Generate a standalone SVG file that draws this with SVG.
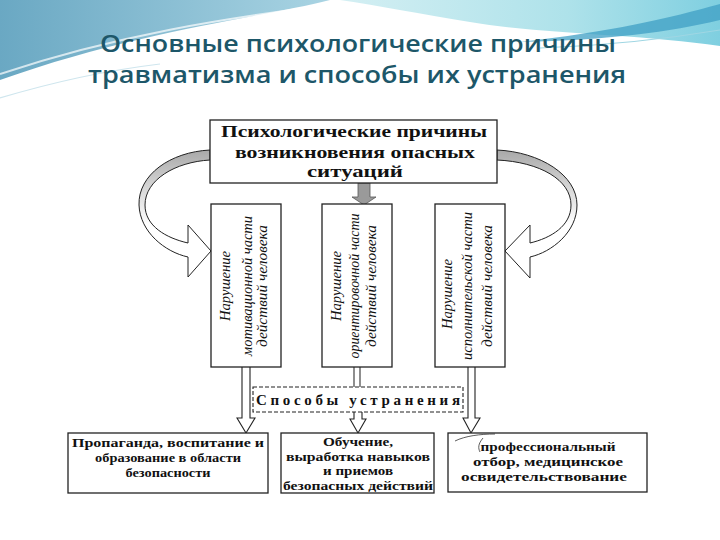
<svg xmlns="http://www.w3.org/2000/svg" width="720" height="540" viewBox="0 0 720 540">
<style>
.box{fill:#fff;stroke:#222;stroke-width:1.3}
.tb{font-family:"Liberation Serif",serif;font-weight:bold;fill:#111}
.vt{font-family:"Liberation Serif",serif;font-style:italic;font-size:14px;fill:#111;text-anchor:middle}
.bt{font-family:"Liberation Serif",serif;font-weight:bold;font-size:13px;fill:#111;text-anchor:middle}
.title{font-family:"Open Sans","DejaVu Sans",sans-serif;font-weight:600;font-size:23px;fill:#1d5769;text-anchor:middle}
.hollow{fill:#fff;stroke:#222;stroke-width:1.1;stroke-linejoin:miter}
</style>
<defs>
<linearGradient id="gA" x1="0" y1="0" x2="1" y2="0">
<stop offset="0" stop-color="#6aa8c3"/><stop offset="1" stop-color="#a9d4e3"/>
</linearGradient>
<linearGradient id="gB" x1="0" y1="0" x2="1" y2="0">
<stop offset="0" stop-color="#d4eff3"/><stop offset="0.6" stop-color="#aee2ea"/><stop offset="1" stop-color="#7fcfe0"/>
</linearGradient>
<linearGradient id="gL" gradientUnits="userSpaceOnUse" x1="0" y1="150" x2="0" y2="225">
<stop offset="0" stop-color="#a8a8a8"/><stop offset="0.5" stop-color="#d6d6d6"/><stop offset="1" stop-color="#fff"/>
</linearGradient>
</defs>
<rect width="720" height="540" fill="#fff"/>
<g id="background">
<path d="M0,0 H330 C260,18 140,30 0,80 Z" fill="url(#gA)"/>
<path d="M0,74 C120,34 230,18 320,6" fill="none" stroke="#fff" stroke-width="2" opacity="0.7"/>
<path d="M0,98 C60,80 110,70 160,64" fill="none" stroke="#cfe6ee" stroke-width="1.2"/>
<path d="M340,0 H720 V46 C640,34 540,34 470,22 C420,14 380,6 340,0 Z" fill="url(#gB)"/>
<path d="M720,4 C670,18 610,32 520,42 C610,40 670,32 720,20 Z" fill="#3f9fc4" opacity="0.75"/>
<path d="M720,30 C660,40 600,46 540,48" fill="none" stroke="#9fd6e3" stroke-width="1.2"/>
</g>
<g id="title">
<text class="title" x="358" y="52" textLength="516" lengthAdjust="spacingAndGlyphs">Основные психологические причины</text>
<text class="title" x="357" y="83" textLength="538" lengthAdjust="spacingAndGlyphs">травматизма и способы их устранения</text>
</g>
<g id="connectors">
<path d="M210,150 C170,152 138,175 139,205 C140,232 165,252 188,257 L188,277 L211,251 L188,225 L188,243 C166,238 145,226 145,205 C145,180 175,162 210,160 Z" fill="url(#gL)" stroke="#222" stroke-width="1"/>
<path d="M497,150 C540,152 577,175 577,205 C577,232 552,252 530,257 L530,278 L505,251 L530,225 L530,243 C551,238 571,226 571,205 C571,180 540,162 497,160 Z" fill="url(#gL)" stroke="#222" stroke-width="1"/>
<path d="M358,183 H370 V197 H376 L364,205 L352,197 H358 Z" fill="#9a9a9a" stroke="#555" stroke-width="0.8"/>
<path class="hollow" d="M242,367 V418 H237 L246,433 L255,418 H250 V367"/>
<path d="M354,367 V387 M360,367 V387" stroke="#333" stroke-width="1.1"/>
<path class="hollow" d="M354,412 V419 H350 L358,433 L366,419 H362 V412"/>
<path class="hollow" d="M468,367 V418 H463 L471,433 L480,418 H475 V367"/>
</g>
<g id="n-top">
<rect class="box" x="210" y="120" width="287" height="63"/>
<text class="tb" x="354" y="137" font-size="17" text-anchor="middle" textLength="266" lengthAdjust="spacingAndGlyphs">Психологические причины</text>
<text class="tb" x="355" y="158" font-size="17" text-anchor="middle" textLength="240" lengthAdjust="spacingAndGlyphs">возникновения опасных</text>
<text class="tb" x="355" y="177" font-size="17" text-anchor="middle" textLength="96" lengthAdjust="spacingAndGlyphs">ситуаций</text>
</g>
<g id="n-v1">
<rect class="box" x="211" y="204" width="70" height="163"/>
<g transform="translate(246,286) rotate(-90)">
<text class="vt" x="0" y="-16" font-size="15" textLength="70" lengthAdjust="spacingAndGlyphs">Нарушение</text>
<text class="vt" x="0" y="6" textLength="140" lengthAdjust="spacingAndGlyphs">мотивационной части</text>
<text class="vt" x="0" y="21" textLength="122" lengthAdjust="spacingAndGlyphs">действий человека</text>
</g>
</g>
<g id="n-v2">
<rect class="box" x="322" y="204" width="70" height="163"/>
<g transform="translate(357,286) rotate(-90)">
<text class="vt" x="0" y="-16" font-size="15" textLength="70" lengthAdjust="spacingAndGlyphs">Нарушение</text>
<text class="vt" x="0" y="2" textLength="145" lengthAdjust="spacingAndGlyphs">ориентировочной части</text>
<text class="vt" x="0" y="19" textLength="122" lengthAdjust="spacingAndGlyphs">действий человека</text>
</g>
</g>
<g id="n-v3">
<rect class="box" x="435" y="204" width="70" height="163"/>
<g transform="translate(470,286) rotate(-90)">
<text class="vt" x="-8" y="-18" font-size="15" textLength="70" lengthAdjust="spacingAndGlyphs">Нарушение</text>
<text class="vt" x="0" y="2" textLength="148" lengthAdjust="spacingAndGlyphs">исполнительской части</text>
<text class="vt" x="0" y="22" textLength="122" lengthAdjust="spacingAndGlyphs">действий человека</text>
</g>
</g>
<g id="n-ways">
<rect x="253" y="387" width="210" height="25" fill="#fff" stroke="#222" stroke-width="1.1" stroke-dasharray="4,2"/>
<text class="tb" x="358" y="405" font-size="15" text-anchor="middle" textLength="204" lengthAdjust="spacing">Способы устранения</text>
</g>
<g id="n-a">
<rect class="box" x="68" y="433" width="200" height="60"/>
<text class="bt" x="168" y="447" textLength="192" lengthAdjust="spacingAndGlyphs">Пропаганда, воспитание и</text>
<text class="bt" x="168" y="462" textLength="146" lengthAdjust="spacingAndGlyphs">образование в области</text>
<text class="bt" x="168" y="477" textLength="85" lengthAdjust="spacingAndGlyphs">безопасности</text>
</g>
<g id="n-b">
<rect class="box" x="281" y="433" width="153" height="60"/>
<text class="bt" x="358" y="446" textLength="70" lengthAdjust="spacingAndGlyphs">Обучение,</text>
<text class="bt" x="358" y="461" textLength="144" lengthAdjust="spacingAndGlyphs">выработка навыков</text>
<text class="bt" x="358" y="475" textLength="70" lengthAdjust="spacingAndGlyphs">и приемов</text>
<text class="bt" x="358" y="490" textLength="150" lengthAdjust="spacingAndGlyphs">безопасных действий</text>
</g>
<g id="n-c">
<rect class="box" x="448" y="433" width="199" height="59"/>
<path d="M455,441 C465,436 480,434 495,434 M483,438 C478,444 478,448 480,452" fill="none" stroke="#333" stroke-width="0.8"/>
<text class="bt" x="548" y="451" textLength="135" lengthAdjust="spacingAndGlyphs">профессиональный</text>
<text class="bt" x="548" y="466" textLength="150" lengthAdjust="spacingAndGlyphs">отбор, медицинское</text>
<text class="bt" x="544" y="481" textLength="166" lengthAdjust="spacingAndGlyphs">освидетельствование</text>
</g>
</svg>
